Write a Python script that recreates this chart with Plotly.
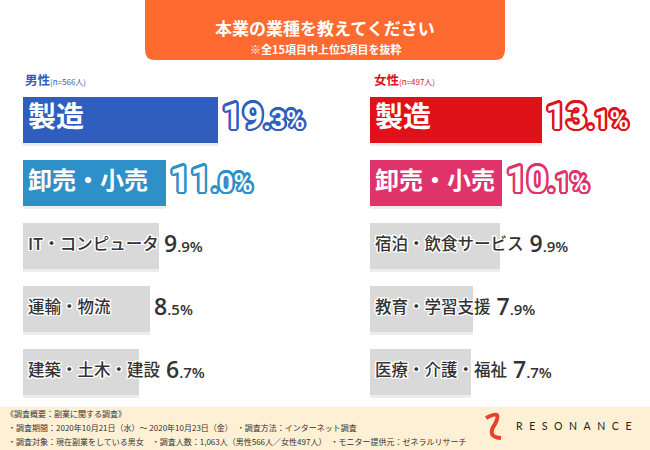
import math
import plotly.graph_objects as go

# ---------------- data ----------------
title_text = "本業の業種を教えてください"
subtitle_text = "※全15項目中上位5項目を抜粋"

male_title = "男性"
male_n = "(n=566人)"
male_labels = ["製造", "卸売・小売", "IT・コンピュータ", "運輸・物流", "建築・土木・建設"]
male_values = [19.3, 11.0, 9.9, 8.5, 6.7]

female_title = "女性"
female_n = "(n=497人)"
female_labels = ["製造", "卸売・小売", "宿泊・飲食サービス", "教育・学習支援", "医療・介護・福祉"]
female_values = [13.1, 10.1, 9.9, 7.9, 7.7]

footer_lines = [
    "《調査概要：副業に関する調査》",
    "・調査期間：2020年10月21日（水）～ 2020年10月23日（金）　・調査方法：インターネット調査",
    "・調査対象：現在副業をしている男女　・調査人数：1,063人（男性566人／女性497人）　・モニター提供元：ゼネラルリサーチ",
]
brand = "RESONANCE"

# ---------------- styles ----------------
W, H = 650, 450
JP = "Noto Sans CJK JP"
NUM = "Roboto"
GRAY_BAR = "#D9D9D9"
TXT = "#333333"
male_colors = ["#2F5EBE", "#2E90C8", GRAY_BAR, GRAY_BAR, GRAY_BAR]
female_colors = ["#E01219", "#E0336C", GRAY_BAR, GRAY_BAR, GRAY_BAR]
MALE_HEAD = "#2F5EBE"
FEMALE_HEAD = "#E01219"


def px(x):
    return x / W


def py(y):
    return 1 - y / H


def outline(color, r=1.5, n=16):
    parts = []
    for k in range(n):
        a = 2 * math.pi * k / n
        parts.append(f"{r*math.cos(a):.2f}px {r*math.sin(a):.2f}px 0 {color}")
    return ", ".join(parts)


def text_w(s, size):
    w = 0
    for ch in s:
        if ord(ch) > 0x2E80:
            w += size
        elif ch in "Iil.":
            w += 0.3 * size
        else:
            w += 0.58 * size
    return w


def fmt_value(v, small):
    whole = int(v)
    dec = f"{v:.1f}".split(".")[1]
    return f"{whole}<span style='font-size:{small}px'>.{dec}%</span>"


fig = go.Figure()

panels = [
    # (labels, values, colors, xaxis, yaxis, left px, right px, px per unit, axis min)
    (male_labels, male_values, male_colors, "x", "y", 23, 330, 6.29, -11.7),
    (female_labels, female_values, female_colors, "x2", "y2", 370, 650, 13.1, 0.0),
]

TOP = 88
ROWH = 63.1
BW = 0.73
LABEL_PAD = 5

for labels, values, colors, xa, ya, left, right, ppu, amin in panels:
    # soft shadow under each bar
    fig.add_trace(go.Bar(
        y=labels, x=[v - amin for v in values], base=amin, orientation="h",
        marker=dict(color="rgba(0,0,0,0.07)", line=dict(width=0)),
        width=BW, offset=-BW / 2 + 0.05, xaxis=xa, yaxis=ya, hoverinfo="skip",
        showlegend=False,
    ))
    fig.add_trace(go.Bar(
        y=labels, x=[v - amin for v in values], base=amin, orientation="h",
        marker=dict(color=colors, line=dict(width=0)),
        width=BW, offset=-BW / 2, xaxis=xa, yaxis=ya, showlegend=False,
    ))
    for i, (lab, v) in enumerate(zip(labels, values)):
        if i < 2:
            lsize = 28 if i == 0 else 24
            lfont = dict(family=JP, size=lsize, color="white", weight=700,
                         shadow=outline(colors[i], 1.6))
            vbig, vsmall = 36, 26
            vfont = dict(family=NUM, size=vbig, color="white", weight=700,
                         shadow=outline(colors[i], 2.3, 20))
        else:
            lsize = 16.5
            lfont = dict(family=JP, size=lsize, color=TXT, weight=500,
                         shadow=outline("white", 1.3))
            vbig, vsmall = 23, 15
            vfont = dict(family="Open Sans", size=vbig, color=TXT, weight=600,
                         shadow=outline("white", 1.0, 8))
        vtext = fmt_value(v, vsmall)
        fig.add_trace(go.Scatter(
            x=[amin + LABEL_PAD / ppu], y=[lab], mode="text", text=[lab],
            textposition="middle right", textfont=lfont, xaxis=xa, yaxis=ya,
            showlegend=False, hoverinfo="skip", cliponaxis=False,
        ))
        bar_end_px = (v - amin) * ppu
        label_end_px = LABEL_PAD + 3 + text_w(lab, lsize)
        val_px = max(bar_end_px + 4, label_end_px + 3)
        fig.add_trace(go.Scatter(
            x=[amin + val_px / ppu], y=[lab], mode="text", text=[vtext],
            textposition="middle right", textfont=vfont, xaxis=xa, yaxis=ya,
            showlegend=False, hoverinfo="skip", cliponaxis=False,
        ))

y_dom = [py(TOP + 5 * ROWH), py(TOP)]
axis_common = dict(visible=False, showgrid=False, zeroline=False, fixedrange=True)
fig.update_layout(
    xaxis=dict(domain=[px(23), px(330)], range=[-11.7, -11.7 + (330 - 23) / 6.29], anchor="y", **axis_common),
    yaxis=dict(domain=y_dom, range=[4.5, -0.5], anchor="x", type="category", **axis_common),
    xaxis2=dict(domain=[px(370), px(650)], range=[0, (650 - 370) / 13.1], anchor="y2", **axis_common),
    yaxis2=dict(domain=y_dom, range=[4.5, -0.5], anchor="x2", type="category", **axis_common),
)

# ---------------- decorations ----------------
L, R, B, r = 145, 505, 60, 10
path = (f"M {px(L)},{py(0)} L {px(R)},{py(0)} L {px(R)},{py(B - r)} "
        f"Q {px(R)},{py(B)} {px(R - r)},{py(B)} L {px(L + r)},{py(B)} "
        f"Q {px(L)},{py(B)} {px(L)},{py(B - r)} Z")
shapes = [
    dict(type="path", path=path, xref="paper", yref="paper", fillcolor="#FE6A30",
         line=dict(width=0), layer="below"),
    dict(type="rect", xref="paper", yref="paper", x0=0, x1=1, y0=0, y1=py(407),
         fillcolor="#FEF0D4", line=dict(width=0), layer="below"),
    dict(type="path", xref="paper", yref="paper",
         path=(f"M {px(486)},{py(418)} Q {px(503)},{py(409)} {px(495)},{py(424)} "
               f"Q {px(486)},{py(437)} {px(501)},{py(438)}"),
         line=dict(color="#E8402A", width=4), layer="above"),
]

annotations = [
    dict(text=f"<b>{title_text}</b>", x=px(325), y=py(28), xref="paper", yref="paper",
         xanchor="center", yanchor="middle", showarrow=False,
         font=dict(family=JP, size=17, color="white")),
    dict(text=f"<b>{subtitle_text}</b>", x=px(326), y=py(49), xref="paper", yref="paper",
         xanchor="center", yanchor="middle", showarrow=False,
         font=dict(family=JP, size=11, color="white")),
    dict(text=f"<b>{male_title}</b><span style='font-size:8px'>{male_n}</span>",
         x=px(23), y=py(79), xref="paper", yref="paper", xanchor="left", yanchor="middle",
         showarrow=False, font=dict(family=JP, size=12.5, color=MALE_HEAD)),
    dict(text=f"<b>{female_title}</b><span style='font-size:8px'>{female_n}</span>",
         x=px(372), y=py(79), xref="paper", yref="paper", xanchor="left", yanchor="middle",
         showarrow=False, font=dict(family=JP, size=12.5, color=FEMALE_HEAD)),
    dict(text="\u2002\u2009".join(brand), x=px(514), y=py(426), xref="paper", yref="paper",
         xanchor="left", yanchor="middle", showarrow=False,
         font=dict(family="Lato", size=10.5, color="#222222")),
]
for i, line in enumerate(footer_lines):
    annotations.append(dict(
        text=line, x=px(4 if i == 0 else 6), y=py(413 + 14 * i), xref="paper", yref="paper",
        xanchor="left", yanchor="middle", showarrow=False,
        font=dict(family=JP, size=8, color=TXT),
    ))

fig.update_layout(
    width=W, height=H, margin=dict(l=0, r=0, t=0, b=0),
    paper_bgcolor="white", plot_bgcolor="rgba(0,0,0,0)",
    barmode="overlay", bargap=0, showlegend=False,
    shapes=shapes, annotations=annotations,
)

fig.write_html("out.html", config={"displayModeBar": False},
               post_script="document.body.style.margin='0';")
